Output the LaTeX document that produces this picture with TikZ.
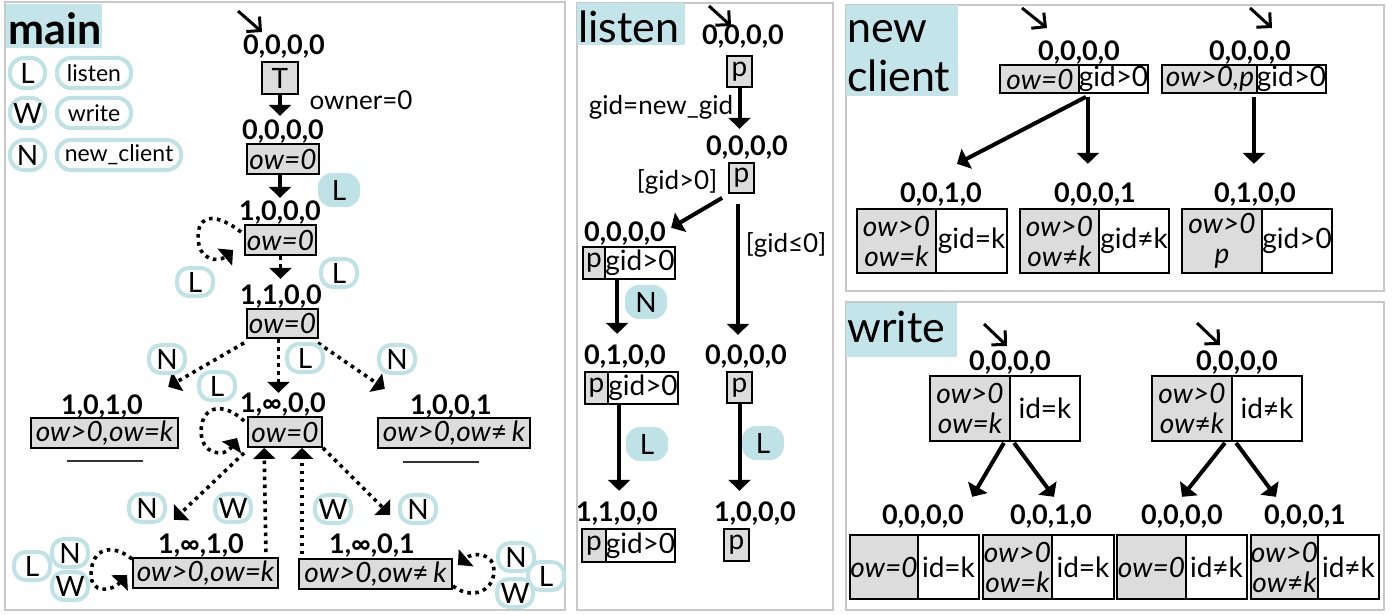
\documentclass[tikz,border=0pt]{standalone}
\usepackage{fontspec}
\setmainfont{Lato}
\usetikzlibrary{arrows.meta,calc}
\definecolor{cyanb}{HTML}{BEE2E6}
\definecolor{ttlcyan}{HTML}{C3E4E8}
\definecolor{boxgray}{HTML}{DCDCDC}
\definecolor{panelgray}{HTML}{C8C8C8}
\newcommand{\nq}{{\upshape ≠}}
\tikzset{
  sz/.style n args={2}{minimum width=#1*0.5pt,minimum height=#2*0.5pt},
  panel/.style={draw=panelgray,line width=1pt},
  titletxt/.style={anchor=base west,inner sep=0,font=\fontsize{21.5}{24}\selectfont},
  lbl/.style={inner sep=0,font=\bfseries\fontsize{13.5}{15}\selectfont},
  txt/.style={inner sep=0,font=\fontsize{13}{15}\selectfont},
  gbox/.style={draw,fill=boxgray,line width=0.9pt,inner sep=0,align=center,font=\itshape\fontsize{14}{15}\selectfont},
  pbox/.style={draw,fill=boxgray,line width=0.9pt,inner sep=0,font=\fontsize{14}{15}\selectfont},
  wbox/.style={draw,fill=white,line width=0.9pt,inner sep=0,font=\fontsize{14}{15}\selectfont},
  bo/.style={draw=cyanb,line width=2pt,fill=white,rounded corners=6pt,inner sep=0,minimum width=18pt,minimum height=14pt,font=\fontsize{14}{15}\selectfont},
  bf/.style={fill=cyanb,rounded corners=7pt,inner sep=0,minimum width=21pt,minimum height=17pt,font=\fontsize{14}{15}\selectfont},
  lg/.style={draw=cyanb,line width=2pt,fill=white,rounded corners=7pt,inner sep=0,minimum height=15pt,font=\fontsize{11.5}{12}\selectfont},
  sarr/.style={line width=2pt,-{Triangle[width=11pt,length=5.5pt]}},
  darr/.style={line width=1.8pt,dash pattern=on 1.8pt off 2.2pt,-{Triangle[width=11pt,length=5.5pt]}},
  initmark/.style={line width=1.5pt,-{Straight Barb[length=5pt,width=10pt]}},
}
\begin{document}
\begin{tikzpicture}[x=0.5pt,y=-0.5pt]
\useasboundingbox (0,0) rectangle (1396,615);
% panels
\draw[panel] (5,2) rectangle (565,610);
\draw[panel] (577,3) rectangle (833,610);
\draw[panel] (846,5) rectangle (1384,291);
\draw[panel] (846,302) rectangle (1384,610);
% titles
\fill[ttlcyan] (6,4) rectangle (102,48);
\node[titletxt] (tmain) at (8,45) {\bfseries main};
\fill[ttlcyan] (577,3) rectangle (685,45);
\node[titletxt] (tlisten) at (578,43) {listen};
\fill[ttlcyan] (846,5) rectangle (958,96);
\node[titletxt] (tnew) at (847,43) {new};
\node[titletxt] (tclient) at (847,91) {client};
\fill[ttlcyan] (846,303) rectangle (957,357);
\node[titletxt] (twrite) at (847,342) {write};

% ===== main =====
\node[lg,minimum width=17.5pt] (gL) at (27.5,73) {\fontsize{14}{15}\selectfont L};
\node[lg,minimum width=37pt] (gLt) at (94,73) {listen};
\node[lg,minimum width=17.5pt] (gW) at (27.5,113) {\fontsize{14}{15}\selectfont W};
\node[lg,minimum width=37pt] (gWt) at (94,113) {write};
\node[lg,minimum width=17.5pt] (gN) at (27.5,155) {\fontsize{14}{15}\selectfont N};
\node[lg,minimum width=62pt] (gNt) at (119,155) {new\_client};

\coordinate (m0a) at (238,11); \coordinate (m0b) at (262,32);
\draw[initmark] (m0a) -- (m0b);
\node[lbl] (s0l) at (284,47) {0,0,0,0};
\node[pbox,sz={36}{32}] (s0b) at (280,78) {T};
\node[txt] (own) at (361,100) {owner=0};
\node[lbl] (s1l) at (283,132) {0,0,0,0};
\node[gbox,sz={72}{30}] (s1b) at (283,159) {ow=0};
\node[lbl] (s2l) at (280,213) {1,0,0,0};
\node[gbox,sz={71}{30}] (s2b) at (280.5,240) {ow=0};
\node[lbl] (s3l) at (281,297) {1,1,0,0};
\node[gbox,sz={71}{29}] (s3b) at (282.5,323.5) {ow=0};
\node[lbl] (s4l) at (102,407) {1,0,1,0};
\node[gbox,sz={147}{30}] (s4b) at (104.5,433) {ow>0,ow=k};
\node[lbl] (s5l) at (283,405) {1,∞,0,0};
\node[gbox,sz={74}{30}] (s5b) at (285,432) {ow=0};
\node[lbl] (s6l) at (451,407) {1,0,0,1};
\node[gbox,sz={152}{30}] (s6b) at (454,433) {ow>0,ow\nq\,k};
\node[lbl] (s7l) at (201,546) {1,∞,1,0};
\node[gbox,sz={145}{30}] (s7b) at (205.5,573) {ow>0,ow=k};
\node[lbl] (s8l) at (372,546) {1,∞,0,1};
\node[gbox,sz={153}{30}] (s8b) at (375.5,574) {ow>0,ow\nq\,k};
\draw[line width=1pt,black!80] ($(s4b.south)+(-38,12)$) -- ($(s4b.south)+(38,12)$);
\draw[line width=1pt,black!80] ($(s6b.south)+(-51,13)$) -- ($(s6b.south)+(25,13)$);

\draw[sarr] (s0b.south) -- ($(s0b.south |- s1l.north)+(0,-4)$);
\draw[sarr] ($(s1b.south)+(-3,0)$) -- ($(s1b.south |- s2l.north)+(-3,-3)$);
\draw[darr] (s2b.south) -- ($(s2b.south |- s3l.north)+(0,-6)$);
\draw[darr] ($(s2b.west)+(-3,-8)$) .. controls ($(s2b.west)+(-25,-25)$) and ($(s2b.west)+(-45,-28)$) .. ($(s2b.west)+(-46,-5)$)
   .. controls ($(s2b.west)+(-47,22)$) and ($(s2b.west)+(-25,22)$) .. ($(s2b.west)+(-11,10)$);
\draw[darr] ($(s3b.south west)+(-2,4)$) -- ($(s4l.north east)+(25,-8)$);
\draw[darr] ($(s3b.south)+(-4,0)$) -- ($(s3b.south |- s5l.north)+(-4,0)$);
\draw[darr] ($(s3b.south east)+(-1,4)$) -- ($(s6l.north west)+(-25,-6)$);
\draw[darr] ($(s5b.west)+(-3,-11)$) .. controls ($(s5b.west)+(-23,-30)$) and ($(s5b.west)+(-45,-27)$) .. ($(s5b.west)+(-46,-2)$)
   .. controls ($(s5b.west)+(-47,23)$) and ($(s5b.west)+(-22,26)$) .. ($(s5b.west)+(-10,6)$);
\draw[darr] ($(s5b.south west)+(-3,5)$) -- ($(s7l.north west)+(16,-14)$);
\draw[darr] ($(s7b.north east)+(-13,-5)$) -- ($(s5b.south west)+(17,0)$);
\draw[darr] ($(s8b.north west)+(4,-4)$) -- ($(s5b.south west)+(55,0)$);
\draw[darr] (s5b.south east) -- ($(s8l.north)+(18,-19)$);
\draw[darr] ($(s7b.west)+(0,-14)$) .. controls ($(s7b.west)+(-20,-30)$) and ($(s7b.west)+(-40,-25)$) .. ($(s7b.west)+(-41,0)$)
   .. controls ($(s7b.west)+(-42,22)$) and ($(s7b.west)+(-20,18)$) .. ($(s7b.west)+(-5,2)$);
\draw[darr] ($(s8b.east)+(0,12)$) .. controls ($(s8b.east)+(18,26)$) and ($(s8b.east)+(40,18)$) .. ($(s8b.east)+(41,-2)$)
   .. controls ($(s8b.east)+(42,-22)$) and ($(s8b.east)+(20,-22)$) .. ($(s8b.east)+(5,-9)$);

\node[bf] (bL1) at (339,190) {L};
\node[bo] (bL2) at (195,282) {L};
\node[bo] (bL3) at (339,273) {L};
\node[bo] (bN1) at (167,359) {N};
\node[bo] (bL4) at (217,386) {L};
\node[bo] (bL5) at (305,358) {L};
\node[bo] (bN2) at (397,359) {N};
\node[bo] (bN3) at (147,508) {N};
\node[bo] (bW1) at (233,508) {W};
\node[bo] (bW2) at (333,509) {W};
\node[bo] (bN4) at (418,509) {N};
\node[bo] (cL1) at (32,566) {L};
\node[bo] (cN1) at (70,553) {N};
\node[bo] (cW1) at (70,586) {W};
\node[bo] (cL2) at (546,576) {L};
\node[bo] (cN2) at (516,557) {N};
\node[bo] (cW2) at (515,593) {W};

% ===== listen =====
\coordinate (m1a) at (709,6); \coordinate (m1b) at (731,26);
\draw[initmark] (m1a) -- (m1b);
\node[lbl] (l0l) at (743,37) {0,0,0,0};
\node[pbox,sz={25}{31}] (l0b) at (739.5,71.5) {p};
\node[txt] (lt1) at (661,107) {gid=new\_gid};
\node[lbl] (l1l) at (747,148) {0,0,0,0};
\node[pbox,sz={25}{30}] (l1b) at (741.5,178) {p};
\node[txt] (lt2) at (677,182) {[gid>0]};
\node[txt] (lt3) at (786,245) {[gid≤0]};
\node[lbl] (l2l) at (625,234) {0,0,0,0};
\node[pbox,sz={22}{32}] (l2p) at (594,263) {p};
\node[wbox,sz={70}{32}] (l2g) at (640,263) {gid>0};
\node[lbl] (l3l) at (625,357) {0,1,0,0};
\node[pbox,sz={23}{32}] (l3p) at (596.5,388) {p};
\node[wbox,sz={70}{32}] (l3g) at (643,388) {gid>0};
\node[lbl] (l4l) at (746,357) {0,0,0,0};
\node[pbox,sz={25}{31}] (l4b) at (739.5,387.5) {p};
\node[lbl] (l5l) at (617,514) {1,1,0,0};
\node[pbox,sz={24}{33}] (l5p) at (594,545.5) {p};
\node[wbox,sz={69}{33}] (l5g) at (640.5,545.5) {gid>0};
\node[lbl] (l6l) at (755,514) {1,0,0,0};
\node[pbox,sz={25}{32}] (l6b) at (736.5,545) {p};
\draw[sarr] (l0b.south) -- ($(l0b.south |- l1l.north)+(0,-7)$);
\draw[sarr] ($(l1b.south west)+(-6,4)$) -- ($(l2l.north east)+(5,6)$);
\draw[sarr] ($(l1b.south)+(-3.5,10)$) -- ($(l1b.south |- l4l.north)+(-3.5,-10)$);
\draw[sarr] ($(l2g.south west)+(13,0)$) -- ($(l2g.south west |- l3l.north)+(13,-11)$);
\draw[sarr] ($(l3g.south west)+(12,0)$) -- ($(l3g.south west |- l5l.north)+(12,-11)$);
\draw[sarr] (l4b.south) -- ($(l4b.south |- l6l.north)+(0,-11)$);
\node[bf] (lbN) at (646,302) {N};
\node[bf] (lbL1) at (647,444) {L};
\node[bf] (lbL2) at (763,443) {L};

% ===== new client =====
\coordinate (m2a) at (1022,8); \coordinate (m2b) at (1047,28);
\draw[initmark] (m2a) -- (m2b);
\coordinate (m3a) at (1250,8); \coordinate (m3b) at (1272,28);
\draw[initmark] (m3a) -- (m3b);
\node[lbl] (n0l) at (1079,53) {0,0,0,0};
\node[gbox,sz={80}{28}] (n0a) at (1040,79) {ow=0};
\node[wbox,sz={67}{28}] (n0b) at (1113.5,79) {gid>0};
\node[lbl] (n1l) at (1250,53) {0,0,0,0};
\node[gbox,sz={96}{28}] (n1a) at (1210,79) {ow>0,p};
\node[wbox,sz={67}{28}] (n1b) at (1291.5,79) {gid>0};
\node[lbl] (n2l) at (941,195) {0,0,1,0};
\node[gbox,sz={79}{64}] (n2a) at (896.5,241) {ow>0\\ow=k};
\node[wbox,sz={71}{64}] (n2b) at (971.5,241) {gid=k};
\node[lbl] (n3l) at (1095,195) {0,0,0,1};
\node[gbox,sz={79}{64}] (n3a) at (1059.5,241) {ow>0\\ow\nq k};
\node[wbox,sz={70}{64}] (n3b) at (1134,241) {gid≠k};
\node[lbl] (n4l) at (1255,195) {0,1,0,0};
\node[gbox,sz={80}{64}] (n4a) at (1222,241) {ow>0\\p};
\node[wbox,sz={70}{64}] (n4b) at (1297,241) {gid>0};
\draw[sarr] ($(n0b.south west)+(8,3)$) -- ($(n2l.north)+(16,-19)$);
\draw[sarr] ($(n0b.south west)+(10,3)$) -- ($(n0b.south west |- n3l.north)+(10,-19)$);
\draw[sarr] ($(n1b.south west)+(-2,3)$) -- ($(n1b.south west |- n4l.north)+(-2,-19)$);

% ===== write =====
\coordinate (m4a) at (984,324); \coordinate (m4b) at (1007,346);
\draw[initmark] (m4a) -- (m4b);
\coordinate (m5a) at (1197,323); \coordinate (m5b) at (1220,345);
\draw[initmark] (m5a) -- (m5b);
\node[lbl] (w0l) at (1010,363) {0,0,0,0};
\node[gbox,sz={80}{65}] (w0a) at (970,408.5) {ow>0\\ow=k};
\node[wbox,sz={70}{65}] (w0b) at (1045,408.5) {id=k};
\node[lbl] (w1l) at (1237,363) {0,0,0,0};
\node[gbox,sz={80}{65}] (w1a) at (1192,408.5) {ow>0\\ow\nq k};
\node[wbox,sz={70}{65}] (w1b) at (1267,408.5) {id≠k};
\node[lbl] (w2l) at (923,517) {0,0,0,0};
\node[gbox,sz={68}{64}] (w2a) at (884,567) {ow=0};
\node[wbox,sz={61}{64}] (w2b) at (948.5,567) {id=k};
\node[lbl] (w3l) at (1051,517) {0,0,1,0};
\node[gbox,sz={69}{64}] (w3a) at (1017.5,567) {ow>0\\ow=k};
\node[wbox,sz={62}{64}] (w3b) at (1083,567) {id=k};
\node[lbl] (w4l) at (1182,517) {0,0,0,0};
\node[gbox,sz={69}{64}] (w4a) at (1151.5,567) {ow=0};
\node[wbox,sz={61}{64}] (w4b) at (1216.5,567) {id≠k};
\node[lbl] (w5l) at (1305,517) {0,0,0,1};
\node[gbox,sz={67}{64}] (w5a) at (1284.5,567) {ow>0\\ow\nq k};
\node[wbox,sz={61}{64}] (w5b) at (1348.5,567) {id≠k};
\draw[sarr] ($(w0a.south east)+(-7,1)$) -- ($(w2l.north east)+(8,-8)$);
\draw[sarr] ($(w0b.south west)+(5,1)$) -- ($(w3l.north)+(3,-8)$);
\draw[sarr] ($(w1a.south east)+(-8,1)$) -- ($(w4l.north)+(0,-8)$);
\draw[sarr] ($(w1b.south west)+(5,1)$) -- ($(w5l.north)+(-29,-8)$);
\end{tikzpicture}
\end{document}
